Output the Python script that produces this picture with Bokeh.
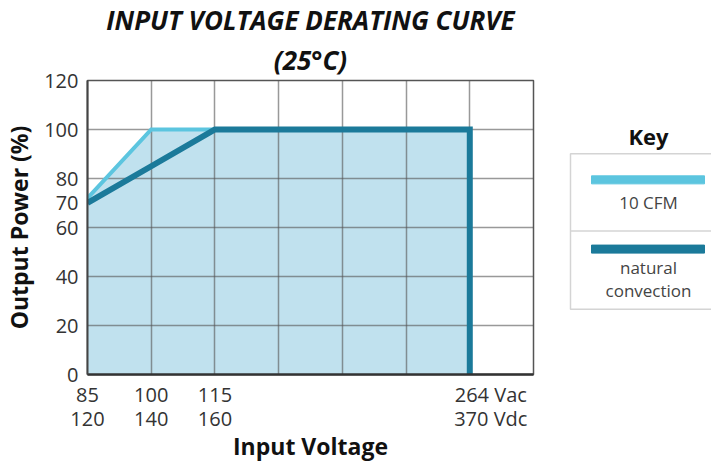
from bokeh.plotting import figure
from bokeh.models import FixedTicker, Range1d, Title
from bokeh.layouts import row
from bokeh.embed import file_html
from bokeh.resources import INLINE
from bokeh.core.properties import value

# ---- data ----
vac = [85, 100, 115, 264]          # input voltage, AC
vdc = [120, 140, 160, 370]         # input voltage, DC
slot = [0, 1, 2, 6]                # slot of each voltage on the (non-linear) x axis
cfm10 = [72, 100, 100, 100]        # output power %, 10 CFM
natural = [70, 85, 100, 100]       # output power %, natural convection
y_ticks = [0, 20, 40, 60, 70, 80, 100, 120]
y_grid = [20, 40, 60, 80, 100]
n_slots = 7
series_names = ["10 CFM", "natural convection"]
series_colors = ["#5cc5df", "#1b7a9a"]

FONT = "Open Sans"
FILL = "#c0e1ee"

p = figure(frame_width=446, frame_height=294, x_range=Range1d(0, n_slots), y_range=Range1d(0, 120),
           output_backend="svg", toolbar_location=None,
           min_border_left=83, min_border_right=21, min_border_top=70, min_border_bottom=70)
p.title = None
sub = Title(text="(25°C)", align="center", text_font=FONT, text_font_size="26px",
            text_font_style="bold italic", text_color="#111111", standoff=6)
main = Title(text="INPUT VOLTAGE DERATING CURVE", align="center", text_font=FONT,
             text_font_size="26px", text_font_style="bold italic", text_color="#111111", standoff=-2)
p.add_layout(sub, "above")
p.add_layout(main, "above")

# curves: end at the max voltage and drop to 0
x_end = slot[-1]
xs_cfm = slot + [x_end]
ys_cfm = cfm10 + [0]
xs_nat = slot + [x_end]
ys_nat = natural + [0]

p.varea(x=slot, y1=[0] * len(slot), y2=cfm10, fill_color=FILL, level="image")
p.line(xs_cfm, ys_cfm, line_color=series_colors[0], line_width=4, line_join="miter")
p.line(xs_nat, ys_nat, line_color=series_colors[1], line_width=6, line_join="miter")

# axes
label_pos = [0, 1, 2, 6.33]
p.xaxis.ticker = FixedTicker(ticks=label_pos)
p.xaxis.major_label_overrides = {
    label_pos[i]: (f"{vac[i]}\n{vdc[i]}" if i < 3 else f"{vac[i]} Vac\n{vdc[i]} Vdc")
    for i in range(len(vac))
}
p.yaxis.ticker = FixedTicker(ticks=y_ticks)
p.xgrid.ticker = FixedTicker(ticks=list(range(1, n_slots)))
p.ygrid.ticker = FixedTicker(ticks=y_grid)
p.grid.grid_line_color = "#555555"
p.grid.grid_line_alpha = 0.6
p.grid.grid_line_width = 1.5

for ax in (p.xaxis[0], p.yaxis[0]):
    ax.major_tick_line_color = None
    ax.minor_tick_line_color = None
    ax.major_label_text_font = FONT
    ax.major_label_text_font_size = "20px"
    ax.major_label_text_color = "#333333"
    ax.axis_label_text_font = FONT
    ax.axis_label_text_font_size = "23px"
    ax.axis_label_text_font_style = "bold"
    ax.axis_label_text_color = "#111111"

p.yaxis.major_label_standoff = 3
p.yaxis.axis_label_standoff = 6
p.xaxis.major_label_standoff = 0
p.xaxis.axis_label_standoff = -5
p.xaxis.major_label_text_line_height = 0.9
p.xaxis.axis_label = "Input Voltage"
p.yaxis.axis_label = "Output Power (%)"
p.xaxis.axis_line_color = "#333333"
p.xaxis.axis_line_width = 2.5
p.yaxis.axis_line_color = "#444444"
p.yaxis.axis_line_width = 2
p.outline_line_color = "#555555"
p.outline_line_width = 1.5

# ---- key (coordinates in page pixels; frame aligned with the chart frame) ----
k = figure(width=157, height=453, x_range=Range1d(556, 713), y_range=Range1d(365, 83),
           output_backend="svg", toolbar_location=None, min_border=0)
k.axis.visible = False
k.grid.visible = False
k.outline_line_color = None
k.quad(left=572, right=730, top=156, bottom=311, fill_color=None, line_color="#d4d4d4", line_width=1.5)
k.segment(x0=572, y0=233, x1=730, y1=233, line_color="#d4d4d4", line_width=1.5)
k.text(x=[650], y=[138], text=["Key"], text_align="center", text_baseline="middle",
       text_font=value(FONT), text_font_size="22px", text_font_style="bold", text_color="#111111")
k.hbar(y=[182, 251], left=593, right=706, height=8, color=series_colors)
key_lines = [series_names[0]] + series_names[1].split(" ")
k.text(x=[650, 650, 650], y=[205, 269, 292], text=key_lines, text_align="center", text_baseline="middle",
       text_font=value(FONT), text_font_size="17px", text_color="#444444")

layout = row(p, k)
open("out.html", "w").write(file_html(layout, INLINE))
